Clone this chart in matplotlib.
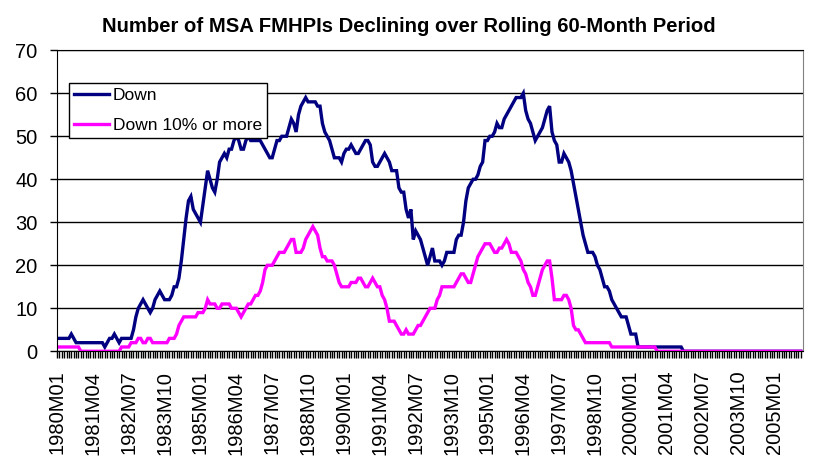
import matplotlib
matplotlib.use('Agg')
import matplotlib.pyplot as plt

plt.rcParams['font.family'] = ['Liberation Sans', 'DejaVu Sans']

# monthly categories 1980M01 .. 2005M12
months = ["{}M{:02d}".format(1980 + i // 12, i % 12 + 1) for i in range(312)]

# number of MSAs down over rolling 60 months, one row per year
down = (
    [3, 3, 3, 3, 3, 3, 4, 3, 2, 2, 2, 2] +          # 1980
    [2, 2, 2, 2, 2, 2, 2, 2, 1, 2, 3, 3] +          # 1981
    [4, 3, 2, 3, 3, 3, 3, 3, 5, 8, 10, 11] +        # 1982
    [12, 11, 10, 9, 10, 12, 13, 14, 13, 12, 12, 12] +
    [13, 15, 15, 17, 21, 26, 31, 35, 36, 33, 32, 31] +
    [30, 34, 38, 42, 40, 38, 37, 40, 44, 45, 46, 45] +  # 1985
    [47, 47, 49, 50, 49, 47, 47, 49, 50, 49, 49, 49] +
    [49, 49, 48, 47, 46, 45, 45, 47, 49, 49, 50, 50] +
    [50, 52, 54, 53, 51, 55, 57, 58, 59, 58, 58, 58] +
    [58, 57, 57, 53, 51, 50, 49, 47, 45, 45, 45, 44] +
    [46, 47, 47, 48, 47, 46, 46, 47, 48, 49, 49, 48] +  # 1990
    [44, 43, 43, 44, 45, 46, 45, 44, 42, 42, 42, 38] +
    [37, 37, 33, 31, 33, 26, 28, 27, 26, 24, 22, 20] +
    [22, 24, 21, 21, 21, 20, 21, 23, 23, 23, 23, 26] +
    [27, 27, 30, 35, 38, 39, 40, 40, 41, 43, 44, 49] +
    [49, 50, 50, 51, 53, 52, 52, 54, 55, 56, 57, 58] +  # 1995
    [59, 59, 59, 60, 56, 54, 53, 51, 49, 50, 51, 52] +
    [54, 56, 57, 51, 49, 48, 44, 44, 46, 45, 44, 42] +
    [39, 36, 33, 30, 27, 25, 23, 23, 23, 22, 20, 19] +
    [17, 15, 15, 14, 12, 11, 10, 9, 8, 8, 8, 6] +
    [4, 4, 4, 1, 1, 1, 1, 1, 1, 1, 1, 1] +          # 2000
    [1, 1, 1, 1, 1, 1, 1, 1, 1, 1, 0, 0] +
    [0] * 12 + [0] * 12 + [0] * 12 + [0] * 12       # 2002-2005
)

# number of MSAs down 10% or more
down10 = (
    [1, 1, 1, 1, 1, 1, 1, 1, 1, 1, 0, 0] +          # 1980
    [0, 0, 0, 0, 0, 0, 0, 0, 0, 0, 0, 0] +
    [0, 0, 0, 1, 1, 1, 1, 2, 2, 2, 3, 3] +
    [2, 2, 3, 3, 2, 2, 2, 2, 2, 2, 2, 3] +
    [3, 3, 4, 6, 7, 8, 8, 8, 8, 8, 8, 9] +
    [9, 9, 10, 12, 11, 11, 11, 10, 10, 11, 11, 11] +  # 1985
    [11, 10, 10, 10, 9, 8, 9, 10, 11, 11, 12, 13] +
    [13, 14, 16, 19, 20, 20, 20, 21, 22, 23, 23, 23] +
    [24, 25, 26, 26, 23, 23, 23, 24, 26, 27, 28, 29] +
    [28, 27, 24, 22, 22, 21, 21, 21, 20, 18, 16, 15] +
    [15, 15, 15, 16, 16, 16, 17, 17, 16, 15, 15, 16] +  # 1990
    [17, 16, 15, 15, 13, 12, 10, 7, 7, 7, 6, 5] +
    [4, 4, 5, 4, 4, 4, 5, 6, 6, 7, 8, 9] +
    [10, 10, 10, 12, 13, 15, 15, 15, 15, 15, 15, 16] +
    [17, 18, 18, 17, 16, 16, 18, 20, 22, 23, 24, 25] +
    [25, 25, 24, 23, 23, 24, 24, 25, 26, 25, 23, 23] +  # 1995
    [23, 22, 21, 19, 18, 16, 15, 13, 13, 15, 17, 19] +
    [20, 21, 21, 17, 12, 12, 12, 12, 13, 13, 12, 10] +
    [6, 5, 5, 4, 3, 2, 2, 2, 2, 2, 2, 2] +
    [2, 2, 2, 2, 1, 1, 1, 1, 1, 1, 1, 1] +
    [1, 1, 1, 1, 1, 1, 1, 1, 1, 1, 1, 0] +          # 2000
    [0] * 12 + [0] * 12 + [0] * 12 + [0] * 12 + [0] * 12
)

label_step = 15  # a tick label every 15 months

fig = plt.figure(figsize=(8.22, 4.61), dpi=100)
ax = fig.add_axes([0.0693, 0.238, 0.9077, 0.653])

x = list(range(len(months)))
ax.plot(x, down, color='#000080', linewidth=2.4, label='Down', solid_joinstyle='miter')
ax.plot(x, down10, color='#FF00FF', linewidth=2.4, label='Down 10% or more', solid_joinstyle='miter')

ax.set_xlim(0, len(months))
ax.set_ylim(0, 70)
ax.set_yticks(range(0, 71, 10))
ax.set_xticks(x[::label_step])
ax.set_xticklabels(months[::label_step], rotation=90)
ax.set_xticks(x, minor=True)

ax.yaxis.grid(True, color='black', linewidth=1)
ax.set_axisbelow(True)

ax.tick_params(axis='both', which='both', direction='out', length=5, width=1, color='black')
ax.tick_params(axis='y', labelsize=14.5, pad=9)
ax.tick_params(axis='x', labelsize=14.5, pad=9)

for side in ['left', 'bottom', 'top']:
    ax.spines[side].set_color('black')
ax.spines['right'].set_color('#808080')

ax.set_title('Number of MSA FMHPIs Declining over Rolling 60-Month Period',
             fontsize=14.6, fontweight='bold', x=0.472, pad=13)

leg = ax.legend(loc='upper left', bbox_to_anchor=(0.0165, 0.892), borderaxespad=0,
                fontsize=12.5, fancybox=False, framealpha=1, edgecolor='black',
                handlelength=2.0, handletextpad=0.2, labelspacing=0.85, borderpad=0.3)
leg.get_frame().set_linewidth(1)

plt.savefig('out.png', dpi=100)
